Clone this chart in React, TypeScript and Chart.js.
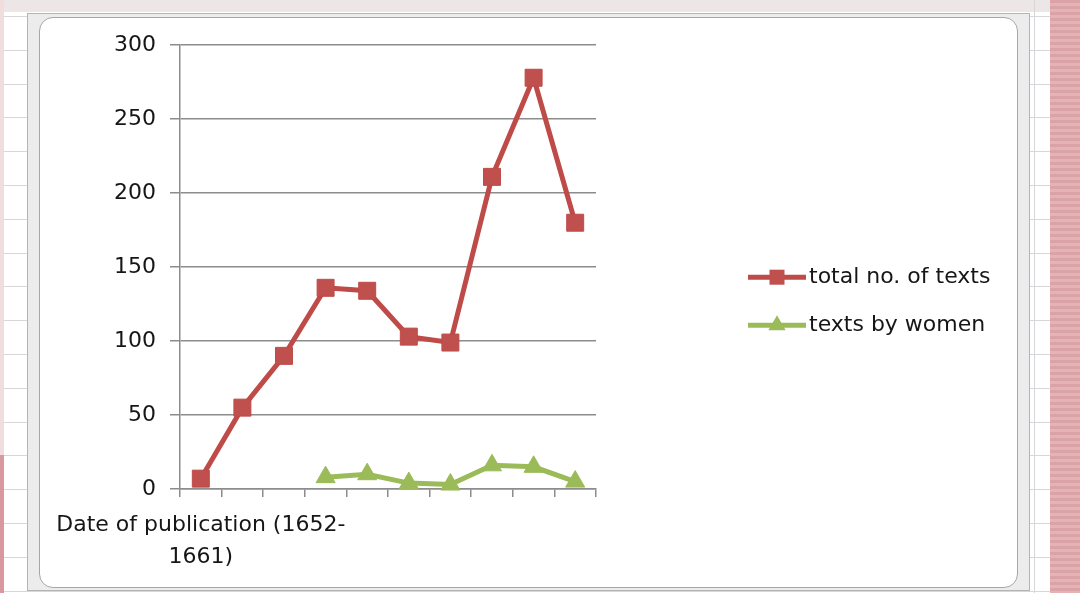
import React, { useEffect, useRef } from "react";
import { Chart, registerables } from "chart.js";

Chart.register(...registerables);

// ---- data ----
const categories: (string | string[])[] = [
  ["Date of publication (1652-", "1661)"],
  "", "", "", "", "", "", "", "", "",
];
const totalTexts = [7, 55, 90, 136, 134, 103, 99, 211, 278, 180];
const textsByWomen = [null, null, null, 8, 10, 4, 3, 16, 15, 5];
const seriesLabels = ["total no. of texts", "texts by women"];
const yMin = 0;
const yMax = 300;
const yStep = 50;

const FONT = "'DejaVu Sans', Verdana, sans-serif";
const GRID = "#8c8c8c";
const RED_LINE = "#BE4B48";
const RED_FILL = "#C0504D";
const GREEN_LINE = "#9BBB59";
const GREEN_FILL = "#9BBB59";
const TEXT = "#161616";

const legendPlugin = {
  id: "excelLegend",
  afterDraw(chart: any) {
    const ctx = chart.ctx;
    const area = chart.chartArea;
    const x0 = area.right + 152;
    const lineLen = 58;
    const rows = [area.top + 232, area.top + 280];
    chart.data.datasets.forEach((ds: any, i: number) => {
      const y = rows[i];
      ctx.save();
      ctx.strokeStyle = ds.borderColor;
      ctx.lineWidth = 5;
      ctx.beginPath();
      ctx.moveTo(x0, y);
      ctx.lineTo(x0 + lineLen, y);
      ctx.stroke();
      const cx = x0 + lineLen / 2;
      ctx.fillStyle = ds.pointBackgroundColor;
      if (ds.pointStyle === "rect") {
        ctx.fillRect(cx - 7.5, y - 7.5, 15, 15);
      } else {
        const r = 10;
        ctx.beginPath();
        ctx.moveTo(cx, y - r);
        ctx.lineTo(cx + r * 0.866, y + r / 2);
        ctx.lineTo(cx - r * 0.866, y + r / 2);
        ctx.closePath();
        ctx.fill();
      }
      ctx.fillStyle = TEXT;
      ctx.font = `22px ${FONT}`;
      ctx.textBaseline = "middle";
      ctx.textAlign = "left";
      ctx.fillText(ds.label, x0 + lineLen + 3, y);
      ctx.restore();
    });
  },
};

function ExcelChart() {
  const ref = useRef<HTMLCanvasElement | null>(null);
  useEffect(() => {
    if (!ref.current) return;
    const chart = new Chart(ref.current, {
      type: "line",
      data: {
        labels: categories as any,
        datasets: [
          {
            label: seriesLabels[0],
            data: totalTexts,
            borderColor: RED_LINE,
            backgroundColor: RED_FILL,
            borderWidth: 5,
            pointStyle: "rect",
            pointRadius: 12,
            pointBackgroundColor: RED_FILL,
            pointBorderColor: RED_LINE,
            pointBorderWidth: 1,
            tension: 0,
            clip: false as any,
          },
          {
            label: seriesLabels[1],
            data: textsByWomen,
            borderColor: GREEN_LINE,
            backgroundColor: GREEN_FILL,
            borderWidth: 5,
            pointStyle: "triangle",
            pointRadius: 11,
            pointBackgroundColor: GREEN_FILL,
            pointBorderColor: GREEN_LINE,
            pointBorderWidth: 1,
            tension: 0,
            clip: false as any,
          },
        ],
      },
      options: {
        responsive: false,
        animation: false,
        events: [],
        layout: { padding: { top: 27, right: 422, bottom: 1, left: 0 } },
        plugins: {
          legend: { display: false },
          tooltip: { enabled: false },
        },
        scales: {
          x: {
            type: "category",
            offset: true,
            afterFit: (s: any) => {
              s.paddingLeft = 0;
              s.paddingRight = 0;
            },
            grid: {
              offset: true,
              drawOnChartArea: false,
              drawTicks: true,
              tickLength: 8,
              color: GRID,
              lineWidth: 1.5,
            },
            border: { display: true, color: GRID, width: 1.5 },
            ticks: {
              autoSkip: false,
              maxRotation: 0,
              minRotation: 0,
              padding: 12,
              color: TEXT,
              font: { family: FONT, size: 22, lineHeight: 32 / 22 },
            },
          },
          y: {
            min: yMin,
            max: yMax,
            afterFit: (s: any) => {
              s.width = 140;
            },
            grid: {
              color: GRID,
              lineWidth: 1.5,
              drawTicks: true,
              tickLength: 10,
            },
            border: { display: true, color: GRID, width: 1.5 },
            ticks: {
              stepSize: yStep,
              padding: 14,
              color: TEXT,
              font: { family: FONT, size: 22 },
            },
          },
        },
      },
      plugins: [legendPlugin],
    });
    return () => chart.destroy();
  }, []);
  return (
    <canvas
      ref={ref}
      width={978}
      height={568}
      style={{ position: "absolute", left: 40, top: 18, width: 978, height: 568 }}
    />
  );
}

export default function App() {
  return (
    <div
      style={{
        position: "fixed",
        left: 0,
        top: 0,
        width: 1080,
        height: 593,
        overflow: "hidden",
        background: "#ffffff",
      }}
    >
      {/* spreadsheet grid */}
      <div
        style={{
          position: "absolute",
          inset: 0,
          backgroundImage:
            "repeating-linear-gradient(to bottom, #d5d7da 0px, #d5d7da 1px, transparent 1px, transparent 33.8px)",
          backgroundPosition: "0 16px",
        }}
      />
      {/* top band */}
      <div
        style={{
          position: "absolute",
          left: 0,
          top: 0,
          width: 1080,
          height: 12,
          background: "#ece6e6",
        }}
      />
      {/* column line right */}
      <div style={{ position: "absolute", left: 1034, top: 0, width: 1, height: 593, background: "#d5d7da" }} />
      {/* left pink edge */}
      <div style={{ position: "absolute", left: 0, top: 0, width: 4, height: 455, background: "#f1dddd" }} />
      <div style={{ position: "absolute", left: 0, top: 455, width: 4, height: 138, background: "#d9989d" }} />
      {/* right pink strip */}
      <div
        style={{
          position: "absolute",
          left: 1050,
          top: 0,
          width: 30,
          height: 593,
          backgroundImage:
            "repeating-linear-gradient(to bottom, #dca3a7 0px, #dca3a7 3px, #e4b3b6 3px, #e4b3b6 6px)",
        }}
      />
      {/* chart frame */}
      <div
        style={{
          position: "absolute",
          left: 27,
          top: 13,
          width: 1003,
          height: 578,
          boxSizing: "border-box",
          background: "#ececec",
          border: "1px solid #b4b4b4",
        }}
      />
      <div
        style={{
          position: "absolute",
          left: 39,
          top: 17,
          width: 979,
          height: 571,
          boxSizing: "border-box",
          background: "#ffffff",
          border: "1px solid #a6a6a6",
          borderRadius: 14,
        }}
      />
      <ExcelChart />
    </div>
  );
}
